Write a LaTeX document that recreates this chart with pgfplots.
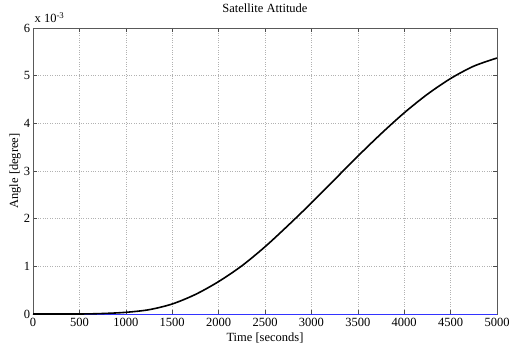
\documentclass[border=0pt]{standalone}
\usepackage{fontspec}
\setmainfont{Liberation Serif}
\usepackage{pgfplots}
\pgfplotsset{compat=1.18}
\begin{document}
\fontsize{12.5}{15}\selectfont
\begin{tikzpicture}
\begin{axis}[
  at={(33pt,30pt)}, anchor=south west,
  scale only axis, width=464pt, height=286pt,
  xmin=0, xmax=5000, ymin=0, ymax=0.006,
  xtick={0,500,...,5000},
  ytick={0,0.001,0.002,0.003,0.004,0.005,0.006},
  scaled x ticks=false,
  scaled y ticks=base 10:3,
  ytick scale label code/.code={x 10\textsuperscript{-3}},
  every y tick scale label/.style={at={(axis description cs:0,1)}, anchor=base west, inner sep=0pt, yshift=5pt},
  /pgf/number format/assume math mode=true,
  /pgf/number format/1000 sep={},
  grid=major,
  grid style={dotted, black!30},
  tick align=inside,
  major tick length=4pt,
  tick style={black!70, line width=0.4pt},
  axis line style={black!65, line width=0.5pt},
  xlabel={Time [seconds]},
  every axis x label/.style={at={(axis description cs:0.5,0)}, anchor=north, yshift=-19pt, inner sep=0pt},
  ylabel={Angle [degree]},
  every axis y label/.style={at={(axis description cs:-0.026,0.5)}, rotate=90, anchor=south, inner sep=0pt},
  yticklabel style={xshift=1.5pt},
  xticklabel style={yshift=0pt},
  clip=false,
]
\addplot[blue!80, line width=0.4pt] coordinates {(0,0) (5000,0)};
\addplot[black, line width=1.6pt, smooth] coordinates {
(0,0) (500,0) (750,0.00001) (1000,0.000035) (1250,0.00009)
(1500,0.00021) (1750,0.00041) (2000,0.00068) (2250,0.00101) (2500,0.00141)
(2750,0.00186) (3000,0.00233) (3250,0.00282) (3500,0.00331) (3750,0.00378)
(4000,0.00422) (4250,0.00461) (4500,0.00494) (4750,0.00520) (5000,0.00537)
};
\node[anchor=base, inner sep=0pt] at (rel axis cs:0.5,1) [yshift=15pt] {Satellite Attitude};
\end{axis}
\pgfresetboundingbox
\path (0,0) rectangle (509pt,344pt);
\end{tikzpicture}
\end{document}
